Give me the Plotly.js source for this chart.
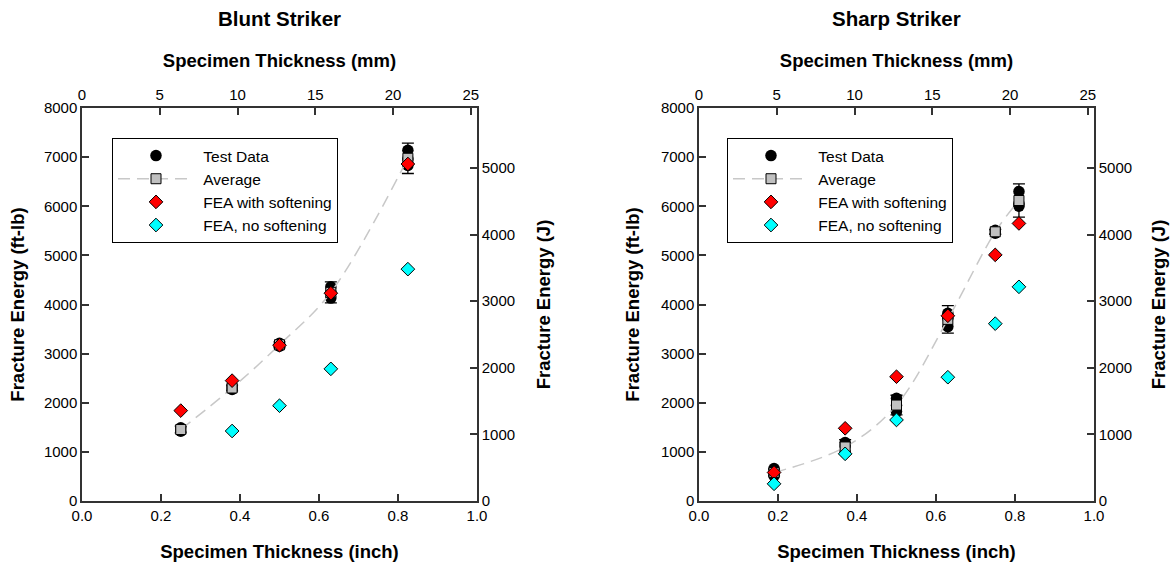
<!DOCTYPE html>
<html><head><meta charset="utf-8">
<script src="https://cdn.plot.ly/plotly-3.0.1.min.js"></script>
<style>html,body{margin:0;padding:0;background:#fff}#chart{width:1173px;height:567px}</style>
</head><body><div id="chart"></div>
<script>
// ---- Blunt striker data (thickness in inch, energy in ft-lb) ----
const bluntTestX = [0.25, 0.25, 0.38, 0.38, 0.5, 0.5, 0.63, 0.63, 0.63, 0.825, 0.825, 0.825];
const bluntTestY = [1420, 1490, 2270, 2330, 3150, 3210, 4130, 4250, 4360, 6830, 6960, 7140];
const bluntAvgX = [0.25, 0.38, 0.5, 0.63, 0.825];
const bluntAvgY = [1455, 2300, 3180, 4247, 6977];
const bluntAvgErr = [70, 60, 60, 215, 310];
const bluntSoftX = [0.25, 0.38, 0.5, 0.63, 0.825];
const bluntSoftY = [1840, 2450, 3170, 4230, 6860];
const bluntNoSoftX = [0.38, 0.5, 0.63, 0.825];
const bluntNoSoftY = [1425, 1940, 2690, 4720];

// ---- Sharp striker data ----
const sharpTestX = [0.19, 0.19, 0.19, 0.37, 0.37, 0.37, 0.5, 0.5, 0.5, 0.63, 0.63, 0.63, 0.75, 0.75, 0.81, 0.81, 0.81];
const sharpTestY = [510, 570, 660, 990, 1120, 1190, 1820, 1950, 2090, 3550, 3720, 3820, 5450, 5510, 6000, 6050, 6300];
const sharpAvgX = [0.19, 0.37, 0.5, 0.63, 0.75, 0.81];
const sharpAvgY = [580, 1100, 1953, 3697, 5480, 6117];
const sharpAvgErr = [70, 150, 200, 280, 50, 340];
const sharpSoftX = [0.19, 0.37, 0.5, 0.63, 0.75, 0.81];
const sharpSoftY = [580, 1480, 2530, 3770, 5010, 5650];
const sharpNoSoftX = [0.19, 0.37, 0.5, 0.63, 0.75, 0.81];
const sharpNoSoftY = [350, 960, 1650, 2520, 3610, 4360];

// ---- labels ----
const seriesNames = ['Test Data', 'Average', 'FEA with softening', 'FEA, no softening'];
const panelTitles = ['Blunt Striker', 'Sharp Striker'];
const xTitleIn = 'Specimen Thickness (inch)';
const xTitleMm = 'Specimen Thickness (mm)';
const yTitleFt = 'Fracture Energy (ft-lb)';
const yTitleJ = 'Fracture Energy (J)';
const energyMax = 8000;          // ft-lb
const ftlbPerJ = 1.3558;         // right axis scale as drawn in the source
const mmPerInch = 25.4;

const FONT = 'Liberation Sans, Arial, Helvetica, sans-serif';
const W = 1173, H = 567;
const domL = [82 / W, 477 / W];
const domR = [699 / W, 1094 / W];
const domY = [1 - 501 / H, 1 - 108 / H];

function pad(s) { return '\u00a0' + s; }

function panelTraces(xa, ya, xo, yo, leg, d) {
  return [
    { x: d.tx, y: d.ty, xaxis: xa, yaxis: ya, mode: 'markers', name: pad(seriesNames[0]), legend: leg,
      marker: { symbol: 'circle', size: 11.5, color: '#000' }, hoverinfo: 'x+y' },
    { x: d.ax, y: d.ay, xaxis: xa, yaxis: ya, mode: 'lines+markers', name: pad(seriesNames[1]), legend: leg,
      line: { color: '#c8c8c8', width: 1.5, dash: '12px,7px', shape: 'spline', smoothing: 1 },
      marker: { symbol: 'square', size: 10, color: '#c0c0c0', line: { color: '#000', width: 1 } },
      error_y: { type: 'data', array: d.ae, visible: true, color: '#000', thickness: 1.3, width: 6 } },
    { x: d.sx, y: d.sy, xaxis: xa, yaxis: ya, mode: 'markers', name: pad(seriesNames[2]), legend: leg,
      marker: { symbol: 'diamond', size: 10.5, color: '#ff0000', line: { color: '#000', width: 1 } } },
    { x: d.nx, y: d.ny, xaxis: xa, yaxis: ya, mode: 'markers', name: pad(seriesNames[3]), legend: leg,
      marker: { symbol: 'diamond', size: 10.5, color: '#00ffff', line: { color: '#000', width: 1 } } },
    { x: [], y: [], xaxis: xo, yaxis: yo, mode: 'markers', showlegend: false, hoverinfo: 'skip' }
  ];
}

const data = [].concat(
  panelTraces('x', 'y', 'x2', 'y2', 'legend',
    { tx: bluntTestX, ty: bluntTestY, ax: bluntAvgX, ay: bluntAvgY, ae: bluntAvgErr,
      sx: bluntSoftX, sy: bluntSoftY, nx: bluntNoSoftX, ny: bluntNoSoftY }),
  panelTraces('x3', 'y3', 'x4', 'y4', 'legend2',
    { tx: sharpTestX, ty: sharpTestY, ax: sharpAvgX, ay: sharpAvgY, ae: sharpAvgErr,
      sx: sharpSoftX, sy: sharpSoftY, nx: sharpNoSoftX, ny: sharpNoSoftY })
);

const tickFont = { family: FONT, size: 15, color: '#000' };
const titleFont = { family: FONT, size: 18.5, color: '#000', weight: 'bold' };
const base = {
  showline: true, linecolor: '#333', linewidth: 1.5, ticks: 'inside', ticklen: 7, tickwidth: 1.5,
  tickcolor: '#333', showgrid: false, zeroline: false, tickfont: tickFont, fixedrange: true
};
function ax(extra) { return Object.assign({}, base, extra); }

const legendBase = {
  xref: 'paper', yref: 'paper', xanchor: 'left', yanchor: 'top', bgcolor: '#fff',
  bordercolor: '#000', borderwidth: 1, font: { family: FONT, size: 15.5, color: '#000' },
  itemwidth: 76, tracegroupgap: 0
};

const layout = {
  width: W, height: H, paper_bgcolor: '#fff', plot_bgcolor: 'rgba(0,0,0,0)',
  margin: { l: 0, r: 0, t: 0, b: 0 }, showlegend: true, hovermode: 'closest',
  font: { family: FONT, color: '#000' },
  xaxis: ax({ domain: domL, anchor: 'y', range: [0, 1], tick0: 0, dtick: 0.2, tickformat: '.1f',
    title: { text: xTitleIn, font: titleFont, standoff: 22 } }),
  xaxis2: ax({ overlaying: 'x', anchor: 'y', side: 'top', range: [0, mmPerInch], tick0: 0, dtick: 5,
    title: { text: xTitleMm, font: titleFont, standoff: 14 } }),
  yaxis: ax({ domain: domY, anchor: 'x', range: [0, energyMax], tick0: 0, dtick: 1000,
    title: { text: yTitleFt, font: titleFont, standoff: 14 } }),
  yaxis2: ax({ overlaying: 'y', anchor: 'x', side: 'right', range: [0, energyMax / ftlbPerJ], tick0: 0, dtick: 1000,
    title: { text: yTitleJ, font: titleFont, standoff: 23 } }),
  xaxis3: ax({ domain: domR, anchor: 'y3', range: [0, 1], tick0: 0, dtick: 0.2, tickformat: '.1f',
    title: { text: xTitleIn, font: titleFont, standoff: 22 } }),
  xaxis4: ax({ overlaying: 'x3', anchor: 'y3', side: 'top', range: [0, mmPerInch], tick0: 0, dtick: 5,
    title: { text: xTitleMm, font: titleFont, standoff: 14 } }),
  yaxis3: ax({ domain: domY, anchor: 'x3', range: [0, energyMax], tick0: 0, dtick: 1000,
    title: { text: yTitleFt, font: titleFont, standoff: 16 } }),
  yaxis4: ax({ overlaying: 'y3', anchor: 'x3', side: 'right', range: [0, energyMax / ftlbPerJ], tick0: 0, dtick: 1000,
    title: { text: yTitleJ, font: titleFont, standoff: 21 } }),
  legend: Object.assign({}, legendBase, { x: 112 / W, y: 1 - 138 / H }),
  legend2: Object.assign({}, legendBase, { x: 727 / W, y: 1 - 138 / H }),
  annotations: [
    { text: panelTitles[0], xref: 'paper', yref: 'paper', x: (domL[0] + domL[1]) / 2, y: 1 - 18 / H,
      xanchor: 'center', yanchor: 'middle', showarrow: false, font: { family: FONT, size: 20.5, color: '#000', weight: 'bold' } },
    { text: panelTitles[1], xref: 'paper', yref: 'paper', x: (domR[0] + domR[1]) / 2, y: 1 - 18 / H,
      xanchor: 'center', yanchor: 'middle', showarrow: false, font: { family: FONT, size: 20.5, color: '#000', weight: 'bold' } }
  ]
};

Plotly.newPlot('chart', data, layout, { displayModeBar: false, staticPlot: false, responsive: false });
</script>
</body></html>
